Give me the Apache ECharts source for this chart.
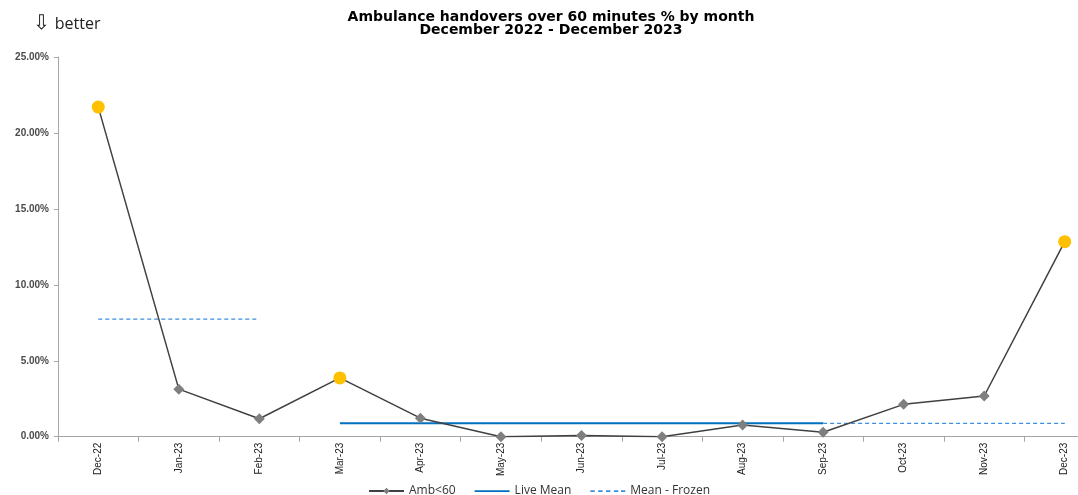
<!DOCTYPE html>
<html>
<head>
<meta charset="utf-8">
<script src="https://cdn.jsdelivr.net/npm/echarts@6/dist/echarts.min.js"></script>
<style>
  html, body { margin: 0; padding: 0; background: #fff; }
  #chart { width: 1078px; height: 495px; }
</style>
</head>
<body>
<div id="chart"></div>
<script>
// Monthly categories
var months = ['Dec-22', 'Jan-23', 'Feb-23', 'Mar-23', 'Apr-23', 'May-23', 'Jun-23',
              'Jul-23', 'Aug-23', 'Sep-23', 'Oct-23', 'Nov-23', 'Dec-23'];

// Ambulance handovers over 60 minutes, % of handovers
var ambValues = [21.70, 3.13, 1.18, 3.87, 1.22, 0.00, 0.08, 0.00, 0.77, 0.29, 2.13, 2.68, 12.84];

// Live mean (current period)
var liveMean = [null, null, null, 0.88, 0.88, 0.88, 0.88, 0.88, 0.88, 0.88, null, null, null];

// Frozen mean (baseline periods)
var frozenMean = [7.74, 7.74, 7.74, null, null, null, null, null, null, 0.88, 0.88, 0.88, 0.88];

// Months flagged as special cause
var specialCauseMonths = ['Dec-22', 'Mar-23', 'Dec-23'];

// Y axis range
var yMin = 0, yMax = 25, yStep = 5;

var ambData = ambValues.map(function (v, i) {
  if (specialCauseMonths.indexOf(months[i]) >= 0) {
    return { value: v, symbol: 'circle', symbolSize: 13, itemStyle: { color: '#FFC000' } };
  }
  return v;
});

// Legend glyphs: plain line and dashed line
var solidIcon = 'path://M0,0h40v2h-40z';
var dashedIcon = 'path://M0,0h5v2h-5zM9,0h5v2h-5zM18,0h5v2h-5zM27,0h5v2h-5zM35,0h5v2h-5z';

var chart = echarts.init(document.getElementById('chart'), null, { renderer: 'canvas' });

chart.setOption({
  animation: false,
  backgroundColor: '#ffffff',
  title: [
    {
      text: 'Ambulance handovers over 60 minutes % by month\nDecember 2022 - December 2023',
      left: 546, top: 6, textAlign: 'center',
      textStyle: { fontFamily: 'DejaVu Sans', fontWeight: 'bold', fontSize: 14, lineHeight: 13, color: '#000' }
    },
    {
      text: '{a|\u21E9} {b|better}',
      left: 28, top: 9,
      textStyle: {
        fontWeight: 'normal',
        rich: {
          a: { fontFamily: 'DejaVu Sans', fontWeight: 'normal', fontSize: 20, color: '#222' },
          b: { fontFamily: 'Open Sans', fontWeight: 'normal', fontSize: 16, color: '#222' }
        }
      }
    }
  ],
  legend: {
    top: 480, left: 'center',
    itemWidth: 35, itemHeight: 8, itemGap: 19,
    textStyle: { fontFamily: 'Open Sans', fontSize: 12, color: '#333' },
    data: [
      { name: 'Amb<60' },
      { name: 'Live Mean', icon: solidIcon },
      { name: 'Mean - Frozen', icon: dashedIcon }
    ]
  },
  grid: { left: 58, top: 57, width: 1047, height: 379.7, containLabel: false, outerBoundsMode: 'none' },
  xAxis: {
    type: 'category',
    data: months,
    boundaryGap: true,
    axisLine: { lineStyle: { color: '#a6a6a6', width: 1 } },
    axisTick: { show: true, length: 5, lineStyle: { color: '#a6a6a6' } },
    axisLabel: {
      rotate: 90, interval: 0, margin: 6,
      fontFamily: 'Liberation Sans', fontSize: 10, color: '#222'
    },
    splitLine: { show: false }
  },
  yAxis: {
    type: 'value',
    min: yMin, max: yMax, interval: yStep,
    axisLine: { show: true, lineStyle: { color: '#a6a6a6', width: 1 } },
    axisTick: { show: true, length: 4, lineStyle: { color: '#a6a6a6' } },
    axisLabel: {
      margin: 9,
      fontFamily: 'Liberation Sans', fontSize: 10, fontWeight: 'bold', color: '#4a4a4a',
      formatter: function (v) { return v.toFixed(2) + '%'; }
    },
    splitLine: { show: false }
  },
  series: [
    {
      name: 'Live Mean',
      type: 'line',
      data: liveMean,
      symbol: 'none',
      z: 2,
      lineStyle: { color: '#0070C0', width: 2 },
      itemStyle: { color: '#0070C0' }
    },
    {
      name: 'Mean - Frozen',
      type: 'line',
      data: frozenMean,
      symbol: 'none',
      z: 2,
      lineStyle: { color: '#3b8fe0', width: 1.2, type: [4, 3] },
      itemStyle: { color: '#3b8fe0' }
    },
    {
      name: 'Amb<60',
      type: 'line',
      data: ambData,
      symbol: 'diamond',
      symbolSize: 11,
      z: 3,
      lineStyle: { color: '#404040', width: 1.5 },
      itemStyle: { color: '#7f7f7f' }
    }
  ]
});
</script>
</body>
</html>
